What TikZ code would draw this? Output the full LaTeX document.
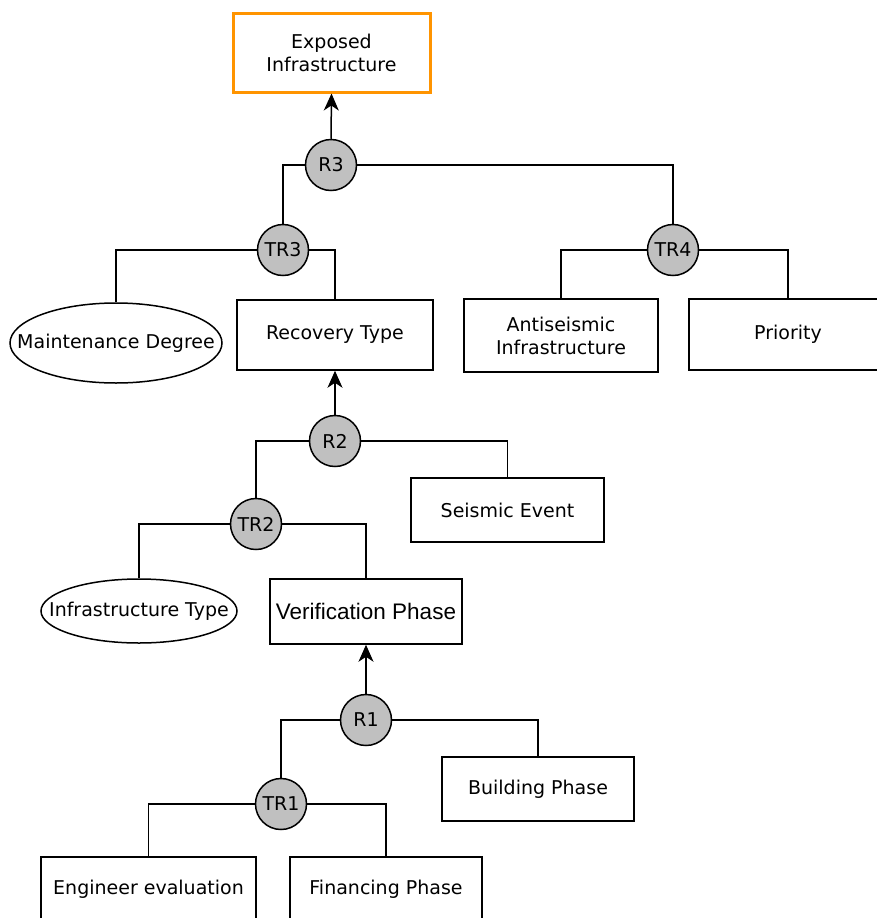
\documentclass[tikz,border=0pt]{standalone}
\usepackage{fontspec}
\setmainfont{DejaVu Sans}
\newfontfamily\arialfont{Liberation Sans}
\usetikzlibrary{arrows.meta, shapes.geometric}
\definecolor{topgoal}{HTML}{FF9400}
\definecolor{gatefill}{HTML}{C0C0C0}
\tikzset{
  factbox/.style={rectangle, draw=black, line width=1.5pt, fill=white,
    inner sep=0pt, align=center, font=\fontsize{19}{23}\selectfont},
  factoval/.style={ellipse, draw=black, line width=1.5pt, fill=white,
    inner xsep=-30pt, inner ysep=0pt, align=center,
    font=\fontsize{19}{23}\selectfont},
  gate/.style={circle, draw=black, line width=1.5pt, fill=gatefill,
    minimum size=51pt, inner sep=0pt, font=\fontsize{19}{23}\selectfont},
  link/.style={line width=1.5pt},
  lift/.style={link, -{Stealth[length=17pt, width=15pt, inset=5pt]}},
}

\begin{document}
\begin{tikzpicture}[x=1pt, y=-1pt]
  \clip (0,0) rectangle (877,918);
  \fill[white] (0,0) rectangle (877,918);

  % goal and first level
  \node[factbox, draw=topgoal, line width=3pt,
        minimum width=197pt, minimum height=79pt]
    (expo) at (331.5,52.5) {Exposed\\Infrastructure};
  \node[gate] (r3) at (331,165) {R3};
  \node[gate] (tr3) at (283,250) {TR3};
  \node[gate] (tr4) at (673,250) {TR4};
  \node[factoval, minimum width=212pt, minimum height=80pt]
    (maint) at (116,343) {Maintenance Degree};
  \node[factbox, minimum width=196pt, minimum height=70pt]
    (recov) at (335,335) {Recovery Type};
  \node[factbox, minimum width=194pt, minimum height=73pt]
    (anti) at (561,335.5) {Antiseismic\\Infrastructure};
  \node[factbox, minimum width=198pt, minimum height=71pt]
    (prio) at (788,334.5) {Priority};

  % recovery type
  \node[gate] (r2) at (335,441) {R2};
  \node[gate] (tr2) at (256,524) {TR2};
  \node[factbox, minimum width=193pt, minimum height=64pt]
    (seism) at (507.5,510) {Seismic Event};
  \node[factoval, minimum width=196pt, minimum height=64pt]
    (inftype) at (139,611) {Infrastructure Type};
  \node[factbox, minimum width=192pt, minimum height=65pt,
        font=\arialfont\fontsize{22.5}{26}\selectfont]
    (verif) at (366,611.5) {Verification Phase};

  % verification phase
  \node[gate] (r1) at (366,720) {R1};
  \node[gate] (tr1) at (281,804) {TR1};
  \node[factbox, minimum width=192pt, minimum height=64pt]
    (build) at (538,789) {Building Phase};
  \node[factbox, minimum width=215pt, minimum height=64pt]
    (engin) at (148.5,889) {Engineer evaluation};
  \node[factbox, minimum width=192pt, minimum height=64pt]
    (financ) at (386,889) {Financing Phase};

  % connectors
  \draw[lift] (r3.north) -- (expo.south);
  \draw[link] (r3.west) -| (tr3.north);
  \draw[link] (r3.east) -| (tr4.north);
  \draw[link] (tr3.west) -| (maint.north);
  \draw[link] (tr3.east) -| (recov.north);
  \draw[link] (tr4.west) -| (anti.north);
  \draw[link] (tr4.east) -| (prio.north);
  \draw[lift] (r2.north) -- (recov.south);
  \draw[link] (r2.west) -| (tr2.north);
  \draw[link] (r2.east) -| (seism.north);
  \draw[link] (tr2.west) -| (inftype.north);
  \draw[link] (tr2.east) -| (verif.north);
  \draw[lift] (r1.north) -- (verif.south);
  \draw[link] (r1.west) -| (tr1.north);
  \draw[link] (r1.east) -| (build.north);
  \draw[link] (tr1.west) -| (engin.north);
  \draw[link] (tr1.east) -| (financ.north);
\end{tikzpicture}
\end{document}
